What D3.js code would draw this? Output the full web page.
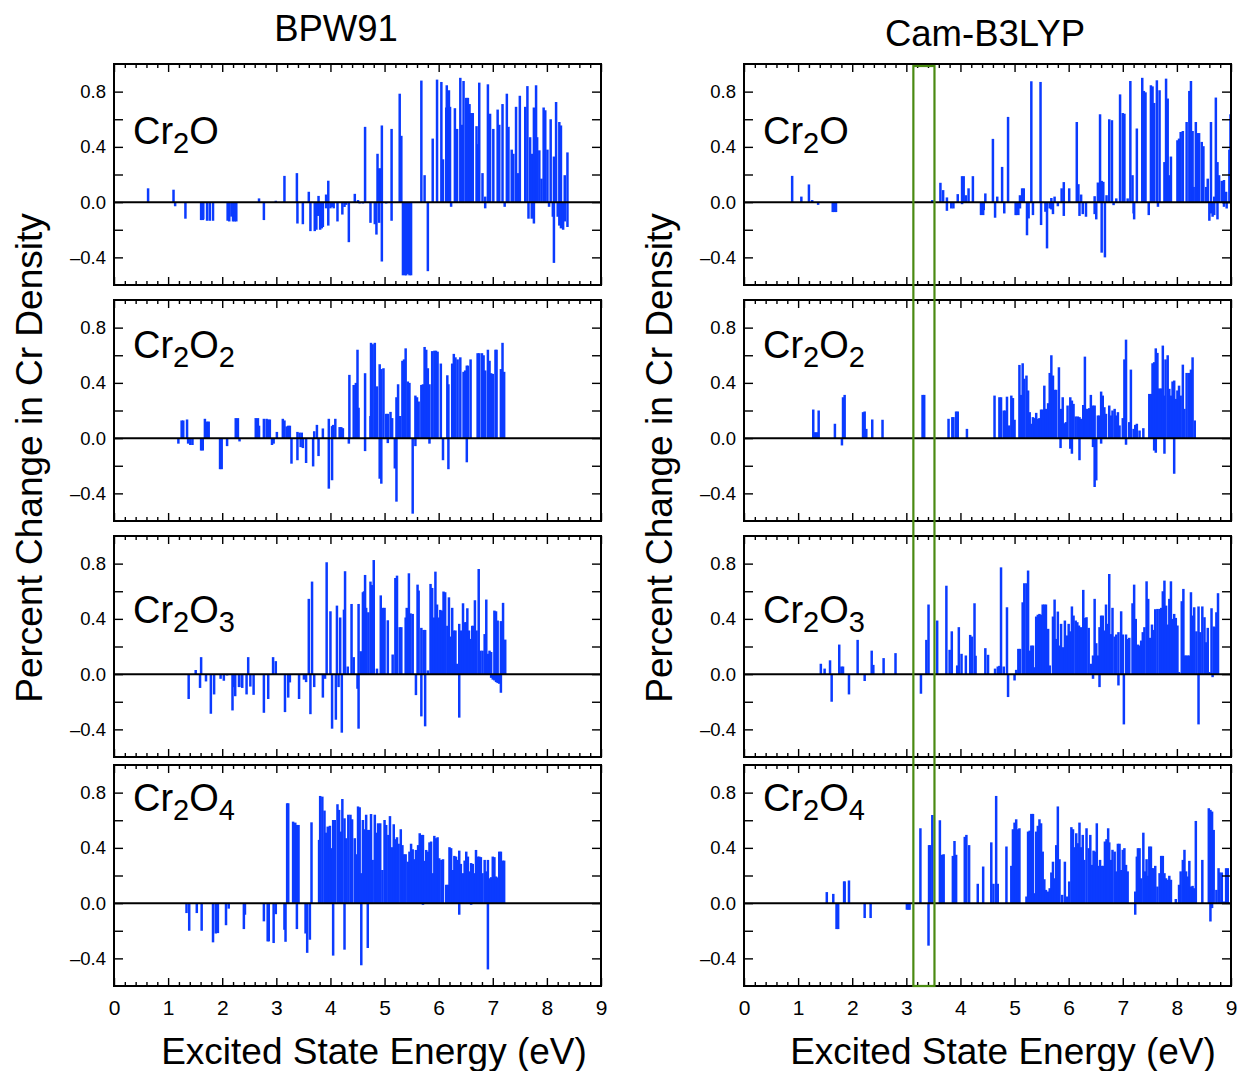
<!DOCTYPE html>
<html><head><meta charset="utf-8">
<script src="https://cdn.jsdelivr.net/npm/d3@7"></script>
<style>
body{margin:0;background:#fff;}
svg{display:block;font-family:"Liberation Sans",Arial,Helvetica,sans-serif;}
</style></head><body>
<svg id="chart" width="1241" height="1071"></svg>
<script>
// ---------------- DATA ----------------
const methods = ["BPW91", "Cam-B3LYP"];
const molecules = [["Cr","2","O",""],["Cr","2","O","2"],["Cr","2","O","3"],["Cr","2","O","4"]];
const xTicks = [0,1,2,3,4,5,6,7,8,9];
const yTickLabels = [-0.4, 0.0, 0.4, 0.8];
const highlightRange = [3.13, 3.52];
const xLabel = "Excited State Energy (eV)";
const yLabel = "Percent Change in Cr Density";

// [energy (eV), percent change]
const bpwCr2O = [[0.63,0.10],[1.10,0.09],[1.13,-0.03],[1.32,-0.12],[1.61,-0.13],[1.64,-0.13],[1.65,-0.125],[1.72,-0.135],[1.77,-0.135],[1.83,-0.135],[2.10,-0.135],[2.13,-0.14],[2.17,-0.105],[2.20,-0.14],[2.23,-0.14],[2.26,-0.14],[2.68,0.027],[2.77,-0.13],[2.99,0.01],[3.15,0.19],[3.38,0.21],[3.39,-0.155],[3.49,-0.16],[3.60,0.075],[3.63,-0.21],[3.71,-0.21],[3.74,-0.2],[3.78,0.045],[3.77,-0.1],[3.81,-0.2],[3.84,-0.19],[3.86,-0.18],[3.92,0.055],[3.92,-0.045],[3.96,0.155],[3.96,-0.17],[4.00,-0.045],[4.03,-0.035],[4.06,-0.045],[4.13,-0.14],[4.22,-0.09],[4.26,-0.035],[4.29,-0.02],[4.34,-0.29],[4.45,0.06],[4.51,0.015],[4.54,-0.01],[4.60,-0.01],[4.64,0.545],[4.74,-0.15],[4.82,-0.16],[4.85,-0.235],[4.87,0.35],[4.90,-0.15],[4.90,0.245],[4.93,0.245],[4.95,0.555],[4.95,-0.43],[5.03,-0.01],[5.13,0.53],[5.13,-0.135],[5.28,0.785],[5.31,0.48],[5.34,-0.53],[5.38,-0.53],[5.40,-0.53],[5.43,-0.52],[5.46,-0.53],[5.49,-0.53],[5.68,0.88],[5.74,0.195],[5.80,-0.5],[5.89,0.46],[5.97,0.887],[6.05,0.87],[6.08,0.31],[6.14,0.685],[6.15,0.846],[6.19,0.81],[6.21,0.69],[6.23,-0.034],[6.30,0.68],[6.34,0.53],[6.40,0.9],[6.43,0.56],[6.46,0.877],[6.51,0.755],[6.54,0.755],[6.57,0.71],[6.60,0.645],[6.63,0.645],[6.70,0.55],[6.72,0.42],[6.75,0.865],[6.81,0.21],[6.86,0.04],[6.86,-0.045],[6.91,0.853],[6.95,0.64],[7.01,0.53],[7.09,0.67],[7.12,0.56],[7.18,0.71],[7.22,-0.034],[7.26,0.785],[7.29,0.545],[7.35,0.38],[7.38,0.35],[7.43,0.69],[7.47,0.21],[7.50,0.77],[7.60,0.69],[7.64,0.84],[7.66,-0.12],[7.69,0.47],[7.72,0.35],[7.72,-0.12],[7.76,0.685],[7.76,-0.155],[7.80,0.846],[7.82,0.47],[7.86,0.375],[7.90,0.17],[7.94,0.685],[7.97,0.665],[8.01,0.38],[8.04,-0.034],[8.07,0.6],[8.11,-0.106],[8.13,0.33],[8.13,-0.44],[8.17,0.725],[8.20,-0.106],[8.23,0.58],[8.23,-0.17],[8.26,0.555],[8.26,-0.19],[8.30,-0.2],[8.33,0.195],[8.33,-0.14],[8.38,0.36],[8.38,-0.18]];

const bpwCr2O2 = [[1.19,-0.04],[1.25,0.128],[1.28,0.128],[1.35,0.135],[1.37,-0.04],[1.41,-0.05],[1.45,-0.05],[1.61,-0.09],[1.64,-0.09],[1.68,0.14],[1.72,0.12],[1.75,0.12],[1.96,-0.225],[1.99,-0.225],[2.09,-0.058],[2.25,0.145],[2.29,0.145],[2.32,-0.024],[2.62,0.145],[2.66,0.145],[2.68,0.09],[2.77,0.14],[2.82,0.14],[2.85,0.135],[2.88,0.135],[2.92,-0.05],[2.95,-0.04],[3.01,0.045],[3.12,0.14],[3.15,0.128],[3.19,0.085],[3.22,0.09],[3.25,0.09],[3.28,-0.185],[3.39,-0.16],[3.39,0.045],[3.43,0.04],[3.45,-0.065],[3.47,0.04],[3.49,-0.072],[3.55,-0.18],[3.68,-0.205],[3.70,0.05],[3.75,0.096],[3.78,-0.13],[3.86,0.07],[3.97,-0.366],[3.97,0.14],[4.03,-0.305],[4.03,0.087],[4.05,0.096],[4.09,0.14],[4.17,0.08],[4.20,0.08],[4.23,0.072],[4.34,-0.04],[4.35,0.458],[4.43,0.385],[4.47,0.4],[4.50,0.64],[4.52,0.22],[4.64,0.47],[4.64,-0.094],[4.74,0.16],[4.75,0.69],[4.78,0.68],[4.82,0.69],[4.83,0.25],[4.86,0.375],[4.91,-0.294],[4.91,0.535],[4.94,0.5],[4.94,-0.33],[4.98,0.506],[5.03,0.176],[5.06,-0.036],[5.06,0.176],[5.11,0.19],[5.14,0.145],[5.19,-0.22],[5.22,0.296],[5.22,-0.46],[5.25,0.39],[5.29,0.16],[5.33,0.56],[5.36,0.57],[5.39,0.65],[5.43,0.41],[5.46,0.4],[5.52,-0.547],[5.57,0.308],[5.57,-0.058],[5.60,0.296],[5.63,0.265],[5.68,0.385],[5.71,0.39],[5.74,0.66],[5.77,0.64],[5.80,0.506],[5.83,0.39],[5.83,-0.04],[5.88,0.63],[5.92,0.633],[5.95,0.633],[5.98,0.626],[6.04,0.54],[6.08,-0.16],[6.16,0.455],[6.18,-0.225],[6.18,0.39],[6.25,0.54],[6.28,0.61],[6.31,0.585],[6.35,0.57],[6.40,0.585],[6.46,0.48],[6.49,0.49],[6.52,-0.175],[6.52,0.525],[6.54,0.525],[6.59,0.57],[6.72,0.615],[6.75,0.615],[6.80,0.615],[6.83,0.6],[6.86,0.49],[6.91,0.64],[6.94,0.56],[6.97,0.47],[7.00,0.465],[7.05,0.64],[7.07,0.64],[7.15,0.5],[7.18,0.69],[7.21,0.48]];

const bpwCr2O3 = [[1.38,-0.18],[1.51,0.03],[1.59,-0.1],[1.61,0.123],[1.70,-0.053],[1.79,-0.287],[1.85,-0.147],[1.97,-0.034],[2.03,-0.048],[2.09,-0.01],[2.19,-0.263],[2.21,-0.094],[2.24,-0.16],[2.31,-0.094],[2.36,-0.094],[2.37,-0.1],[2.45,-0.147],[2.48,0.123],[2.52,-0.09],[2.58,-0.15],[2.77,-0.28],[2.85,-0.18],[2.94,0.123],[2.99,0.094],[3.16,-0.275],[3.22,-0.17],[3.25,-0.06],[3.42,-0.18],[3.51,-0.04],[3.55,-0.058],[3.60,0.545],[3.63,-0.29],[3.66,0.67],[3.70,-0.094],[3.86,-0.17],[3.90,-0.034],[3.93,0.81],[4.00,0.455],[4.03,-0.395],[4.10,-0.33],[4.12,0.496],[4.15,-0.094],[4.18,0.41],[4.21,-0.424],[4.25,0.467],[4.27,0.745],[4.32,0.055],[4.39,0.508],[4.43,0.123],[4.50,-0.106],[4.52,-0.395],[4.52,0.508],[4.56,0.166],[4.60,0.593],[4.62,0.6],[4.64,0.718],[4.66,0.48],[4.70,0.448],[4.74,0.67],[4.77,0.645],[4.80,0.826],[4.86,0.04],[4.93,0.57],[4.97,0.48],[5.00,0.48],[5.06,0.39],[5.15,0.142],[5.20,0.696],[5.23,0.713],[5.28,0.34],[5.31,0.34],[5.39,0.41],[5.41,0.48],[5.45,0.73],[5.48,0.44],[5.52,0.436],[5.58,-0.152],[5.61,0.648],[5.63,0.605],[5.68,0.335],[5.68,-0.306],[5.72,0.32],[5.75,-0.378],[5.75,0.32],[5.80,0.027],[5.85,0.653],[5.88,0.624],[5.91,0.41],[5.94,0.742],[5.97,0.504],[6.00,0.41],[6.03,0.465],[6.06,0.46],[6.09,0.598],[6.12,0.593],[6.16,0.35],[6.19,0.556],[6.22,0.272],[6.25,0.48],[6.28,0.316],[6.31,0.316],[6.34,0.075],[6.38,-0.315],[6.38,0.364],[6.41,0.316],[6.45,0.513],[6.48,0.376],[6.51,0.376],[6.53,0.477],[6.56,0.316],[6.59,0.255],[6.62,0.35],[6.64,0.35],[6.67,0.535],[6.70,0.316],[6.74,0.761],[6.77,0.17],[6.81,0.17],[6.85,0.29],[6.88,0.54],[6.91,0.147],[6.94,0.17],[6.97,0.16],[6.97,-0.027],[7.00,-0.04],[7.03,0.46],[7.03,-0.046],[7.06,0.455],[7.06,-0.058],[7.09,0.388],[7.09,-0.065],[7.12,-0.07],[7.15,0.384],[7.15,-0.135],[7.19,0.516],[7.23,0.25]];

const bpwCr2O4 = [[1.34,-0.072],[1.39,-0.2],[1.53,-0.072],[1.62,-0.2],[1.83,-0.284],[1.88,-0.22],[1.92,-0.217],[2.07,-0.16],[2.12,-0.04],[2.40,-0.188],[2.42,-0.084],[2.77,-0.132],[2.84,-0.277],[2.86,-0.277],[2.95,-0.289],[2.99,-0.08],[3.15,-0.193],[3.17,-0.28],[3.20,0.723],[3.22,0.723],[3.31,0.59],[3.35,0.583],[3.38,-0.188],[3.38,0.566],[3.41,0.566],[3.54,-0.22],[3.57,-0.36],[3.62,-0.265],[3.65,0.585],[3.79,0.458],[3.81,0.776],[3.85,0.771],[3.89,0.67],[3.92,0.51],[3.95,0.554],[3.99,0.56],[4.02,0.398],[4.05,0.602],[4.05,-0.38],[4.08,0.602],[4.13,0.716],[4.16,0.675],[4.19,0.518],[4.22,0.754],[4.26,0.614],[4.26,-0.337],[4.29,0.47],[4.33,0.64],[4.37,0.64],[4.40,0.607],[4.45,0.47],[4.48,0.354],[4.51,0.7],[4.54,0.694],[4.57,0.217],[4.57,-0.45],[4.60,0.602],[4.63,0.535],[4.66,0.64],[4.69,-0.325],[4.69,0.53],[4.72,0.53],[4.75,0.645],[4.78,0.313],[4.82,0.64],[4.85,0.51],[4.88,0.578],[4.92,0.578],[4.96,0.24],[5.00,0.602],[5.03,0.566],[5.07,0.494],[5.10,0.63],[5.14,0.405],[5.17,0.571],[5.20,0.463],[5.23,0.477],[5.26,0.43],[5.30,0.535],[5.33,0.42],[5.36,0.354],[5.39,0.354],[5.43,0.3],[5.46,0.373],[5.49,0.43],[5.52,0.39],[5.55,0.318],[5.58,0.385],[5.62,0.42],[5.65,0.506],[5.68,0.494],[5.71,0.494],[5.71,-0.012],[5.74,0.306],[5.77,0.385],[5.80,0.373],[5.83,0.44],[5.86,0.446],[5.89,0.217],[5.92,0.487],[5.95,0.47],[5.98,0.477],[6.01,0.325],[6.05,0.313],[6.08,0.318],[6.14,0.133],[6.17,0.133],[6.20,0.405],[6.23,0.398],[6.26,0.24],[6.29,0.342],[6.32,0.337],[6.35,0.313],[6.38,0.38],[6.38,-0.084],[6.41,0.284],[6.45,0.217],[6.48,0.308],[6.51,0.373],[6.54,0.337],[6.57,0.23],[6.60,0.29],[6.60,-0.012],[6.63,0.284],[6.66,0.217],[6.69,0.385],[6.72,0.337],[6.75,0.337],[6.78,0.333],[6.81,0.217],[6.85,0.313],[6.88,0.23],[6.91,0.313],[6.91,-0.48],[6.94,0.18],[6.97,0.188],[7.00,0.337],[7.03,0.333],[7.06,0.193],[7.09,0.186],[7.12,0.373],[7.15,0.373],[7.18,0.308],[7.21,0.308]];

const camCr2O = [[0.89,0.19],[1.06,0.04],[1.20,0.128],[1.26,0.015],[1.37,-0.02],[1.64,-0.072],[1.67,-0.072],[1.70,-0.072],[3.48,0.015],[3.63,0.14],[3.68,0.087],[3.75,0.034],[3.75,-0.063],[3.83,-0.046],[3.87,-0.046],[3.95,0.058],[4.03,0.188],[4.03,-0.015],[4.06,0.188],[4.10,0.05],[4.15,0.1],[4.23,0.188],[4.38,-0.094],[4.42,-0.094],[4.43,-0.058],[4.46,0.063],[4.60,0.458],[4.64,-0.113],[4.68,0.04],[4.77,0.255],[4.81,-0.082],[4.88,0.617],[5.02,-0.094],[5.04,-0.094],[5.07,-0.094],[5.10,0.05],[5.10,-0.046],[5.14,0.1],[5.17,0.1],[5.23,-0.24],[5.26,-0.118],[5.31,0.875],[5.34,-0.094],[5.48,0.87],[5.49,-0.166],[5.57,-0.07],[5.60,-0.335],[5.65,-0.046],[5.68,0.03],[5.68,-0.053],[5.71,-0.087],[5.74,0.04],[5.80,-0.03],[5.87,0.1],[5.91,0.145],[5.91,-0.1],[6.01,0.1],[6.15,0.58],[6.18,0.13],[6.20,-0.1],[6.23,0.055],[6.26,-0.087],[6.32,-0.106],[6.48,0.043],[6.48,-0.087],[6.51,-0.125],[6.54,0.142],[6.58,0.636],[6.61,-0.366],[6.61,0.154],[6.64,0.147],[6.67,-0.4],[6.70,0.05],[6.75,0.6],[6.80,0.593],[6.83,-0.022],[6.88,0.027],[6.95,0.78],[7.00,0.645],[7.03,0.64],[7.09,0.027],[7.14,0.877],[7.18,0.195],[7.20,-0.082],[7.21,-0.125],[7.26,0.533],[7.36,0.9],[7.39,0.805],[7.42,0.795],[7.48,-0.094],[7.52,0.846],[7.55,0.838],[7.58,0.718],[7.63,0.882],[7.65,-0.034],[7.68,0.81],[7.77,0.29],[7.80,0.894],[7.83,0.75],[7.86,0.195],[7.89,0.33],[8.01,0.448],[8.04,0.46],[8.07,0.508],[8.11,0.515],[8.18,0.58],[8.23,0.805],[8.26,0.877],[8.29,0.515],[8.31,0.11],[8.35,0.58],[8.38,0.5],[8.41,0.5],[8.46,0.436],[8.49,0.405],[8.54,0.11],[8.57,0.17],[8.60,-0.135],[8.63,0.58],[8.63,-0.082],[8.66,-0.106],[8.69,0.04],[8.69,-0.094],[8.72,0.757],[8.75,0.29],[8.75,-0.125],[8.78,0.195],[8.83,0.154],[8.87,0.16],[8.87,-0.034],[8.91,0.075],[8.92,-0.046],[8.97,0.38],[8.99,0.636]];

const camCr2O2 = [[1.28,0.207],[1.31,0.043],[1.35,0.043],[1.38,0.2],[1.68,0.104],[1.81,-0.053],[1.83,0.296],[1.86,0.313],[2.20,0.188],[2.23,0.193],[2.26,0.067],[2.37,0.135],[2.56,0.133],[3.30,0.313],[3.33,0.313],[3.78,0.14],[3.85,0.152],[3.87,0.152],[3.92,0.193],[3.95,0.193],[4.12,0.067],[4.63,0.308],[4.72,0.296],[4.75,0.296],[4.80,0.2],[4.83,0.2],[4.86,0.3],[4.90,0.092],[4.94,0.308],[4.97,0.29],[5.00,0.133],[5.09,0.53],[5.12,0.313],[5.15,0.542],[5.18,0.43],[5.22,0.453],[5.25,0.345],[5.28,0.188],[5.31,0.104],[5.34,0.152],[5.37,0.145],[5.40,0.183],[5.43,0.14],[5.46,0.145],[5.49,0.207],[5.52,0.207],[5.55,0.38],[5.58,0.212],[5.62,0.253],[5.65,0.472],[5.68,0.6],[5.71,0.453],[5.74,0.35],[5.77,0.35],[5.82,0.513],[5.85,-0.072],[5.86,0.212],[5.89,0.296],[5.92,0.108],[5.95,0.116],[5.98,0.236],[6.03,0.296],[6.03,-0.077],[6.06,0.272],[6.06,-0.113],[6.09,0.248],[6.13,0.157],[6.17,0.157],[6.20,-0.16],[6.20,0.152],[6.23,0.14],[6.27,0.24],[6.30,0.59],[6.32,0.212],[6.35,0.212],[6.38,0.217],[6.41,0.313],[6.45,0.236],[6.45,-0.065],[6.48,-0.354],[6.48,0.236],[6.51,-0.306],[6.54,0.164],[6.57,0.164],[6.60,0.337],[6.60,-0.04],[6.63,0.308],[6.66,0.224],[6.69,0.176],[6.75,0.236],[6.78,0.164],[6.81,0.2],[6.85,0.212],[6.88,0.164],[6.91,0.188],[6.94,0.092],[7.00,0.145],[7.03,0.57],[7.06,0.713],[7.06,-0.048],[7.12,0.116],[7.15,0.496],[7.20,0.067],[7.23,0.096],[7.26,0.104],[7.31,0.055],[7.38,0.072],[7.49,0.32],[7.52,0.32],[7.55,0.542],[7.58,0.55],[7.58,-0.09],[7.61,0.65],[7.61,-0.106],[7.64,0.617],[7.67,0.36],[7.71,0.36],[7.74,0.67],[7.77,0.308],[7.77,-0.113],[7.79,0.57],[7.83,0.6],[7.86,0.357],[7.89,0.308],[7.92,0.41],[7.95,0.417],[7.95,-0.258],[7.98,0.284],[8.01,0.345],[8.04,0.38],[8.07,0.308],[8.11,0.532],[8.14,0.212],[8.18,0.472],[8.22,0.472],[8.26,0.496],[8.29,0.585],[8.33,0.128]];

const camCr2O3 = [[1.42,0.075],[1.49,0.04],[1.59,0.1],[1.62,-0.2],[1.76,0.214],[1.80,0.055],[1.83,0.055],[1.94,-0.147],[2.10,0.248],[2.23,-0.05],[2.36,0.17],[2.39,0.067],[2.58,0.116],[2.80,0.152],[3.27,-0.142],[3.37,0.248],[3.41,0.504],[3.57,0.388],[3.74,0.64],[3.80,0.176],[3.84,0.31],[3.94,0.063],[3.97,0.34],[4.02,0.147],[4.10,0.135],[4.18,0.284],[4.21,0.272],[4.26,0.513],[4.28,0.133],[4.46,0.188],[4.51,0.14],[4.64,0.04],[4.69,0.055],[4.72,0.06],[4.75,0.773],[4.80,0.055],[4.86,0.484],[4.88,-0.166],[5.00,-0.046],[5.03,0.031],[5.07,0.183],[5.10,0.183],[5.15,0.52],[5.18,0.658],[5.22,0.658],[5.25,0.75],[5.28,0.17],[5.31,0.207],[5.34,0.207],[5.37,0.05],[5.40,0.417],[5.43,0.43],[5.46,0.436],[5.49,0.43],[5.52,0.504],[5.55,0.504],[5.58,0.504],[5.62,0.328],[5.65,0.063],[5.71,0.417],[5.74,0.54],[5.77,0.255],[5.80,0.453],[5.83,0.207],[5.86,0.364],[5.90,0.195],[5.93,0.388],[5.97,0.28],[6.00,0.364],[6.03,0.31],[6.06,0.49],[6.09,0.424],[6.13,0.388],[6.16,0.376],[6.19,0.352],[6.23,0.34],[6.27,0.61],[6.30,0.407],[6.33,0.412],[6.37,0.335],[6.41,0.075],[6.45,0.135],[6.45,-0.034],[6.48,0.545],[6.51,0.224],[6.54,0.135],[6.57,-0.094],[6.57,0.34],[6.60,0.424],[6.63,0.424],[6.66,0.316],[6.69,0.504],[6.72,0.364],[6.75,0.725],[6.78,0.29],[6.81,0.48],[6.85,0.272],[6.88,0.287],[6.92,-0.082],[6.92,0.304],[6.97,0.455],[7.00,0.287],[7.02,-0.364],[7.06,0.287],[7.09,0.255],[7.12,0.263],[7.18,0.513],[7.21,0.648],[7.24,0.4],[7.28,0.214],[7.31,0.207],[7.34,0.243],[7.37,0.304],[7.40,0.34],[7.44,0.672],[7.47,0.545],[7.50,0.263],[7.54,0.359],[7.57,0.32],[7.60,0.47],[7.64,0.472],[7.68,0.472],[7.71,0.48],[7.74,0.6],[7.77,0.677],[7.80,0.496],[7.83,0.359],[7.86,0.545],[7.89,0.672],[7.92,0.4],[7.95,0.436],[7.98,0.407],[8.01,0.352],[8.04,0.015],[8.09,0.528],[8.12,0.617],[8.14,0.135],[8.17,0.135],[8.20,0.135],[8.23,0.135],[8.26,0.593],[8.29,0.424],[8.32,0.484],[8.36,0.31],[8.40,-0.364],[8.40,0.49],[8.43,0.304],[8.47,0.49],[8.51,0.412],[8.54,0.231],[8.57,0.335],[8.60,0.015],[8.64,0.477],[8.66,-0.022],[8.68,0.345],[8.71,0.34],[8.73,0.448],[8.76,0.586]];

const camCr2O4 = [[1.53,0.08],[1.65,0.067],[1.71,-0.188],[1.74,-0.188],[1.85,0.157],[1.86,0.157],[1.94,0.164],[2.23,-0.108],[2.34,-0.108],[3.01,-0.048],[3.04,-0.048],[3.06,-0.048],[3.26,0.542],[3.41,-0.308],[3.42,0.42],[3.44,0.42],[3.48,0.638],[3.62,0.6],[3.66,0.35],[3.69,0.354],[3.86,0.342],[3.89,0.45],[3.92,0.35],[4.08,0.48],[4.11,0.494],[4.16,0.42],[4.32,0.14],[4.42,0.265],[4.57,0.44],[4.61,0.14],[4.66,0.776],[4.69,0.14],[4.85,0.41],[4.94,0.27],[4.97,0.535],[5.00,0.583],[5.03,0.607],[5.06,0.535],[5.09,0.542],[5.22,0.048],[5.25,0.518],[5.28,0.525],[5.31,0.646],[5.34,0.646],[5.37,0.072],[5.40,0.518],[5.43,0.56],[5.46,0.607],[5.49,0.578],[5.52,0.373],[5.55,0.173],[5.58,0.096],[5.62,0.084],[5.65,0.108],[5.68,0.222],[5.71,0.3],[5.74,0.18],[5.77,0.42],[5.80,0.7],[5.83,0.318],[5.88,0.06],[5.93,0.3],[5.97,0.048],[6.01,0.157],[6.05,0.55],[6.08,0.535],[6.11,0.405],[6.14,0.506],[6.17,0.434],[6.20,0.583],[6.23,0.405],[6.26,0.494],[6.29,0.313],[6.33,0.542],[6.37,0.398],[6.40,0.494],[6.43,0.277],[6.46,0.38],[6.49,0.373],[6.52,0.578],[6.55,0.27],[6.58,0.313],[6.61,0.27],[6.64,0.27],[6.67,0.446],[6.70,0.463],[6.73,0.542],[6.75,0.44],[6.78,0.313],[6.81,0.386],[6.85,0.373],[6.88,0.23],[6.91,0.43],[6.94,0.43],[6.97,0.24],[7.00,0.386],[7.03,0.398],[7.06,0.277],[7.09,0.23],[7.23,0.084],[7.23,-0.084],[7.26,0.337],[7.28,0.398],[7.31,0.398],[7.34,0.18],[7.38,0.51],[7.41,0.23],[7.44,0.318],[7.47,0.198],[7.49,0.41],[7.52,0.41],[7.54,0.253],[7.56,0.253],[7.60,0.27],[7.64,0.12],[7.68,0.217],[7.71,0.342],[7.74,0.342],[7.77,0.217],[7.80,0.18],[7.83,0.169],[7.86,0.198],[7.89,0.169],[7.98,0.03],[8.04,0.133],[8.07,0.23],[8.11,0.313],[8.14,0.386],[8.17,0.23],[8.20,0.193],[8.23,0.306],[8.26,0.12],[8.29,0.125],[8.32,0.108],[8.35,0.595],[8.47,0.313],[8.59,0.687],[8.62,-0.133],[8.62,0.675],[8.65,0.663],[8.65,-0.036],[8.68,0.53],[8.73,0.096],[8.77,0.253],[8.79,0.222],[8.83,0.222],[8.87,0.012],[8.91,0.253],[8.94,0.253]];

const panelData = [
  [bpwCr2O, bpwCr2O2, bpwCr2O3, bpwCr2O4],
  [camCr2O, camCr2O2, camCr2O3, camCr2O4]
];

// ---------------- LAYOUT ----------------
const colLeft = [114, 744];
const panelW = 487;
const rowTop = [64, 300, 536, 765];
const panelH = 221;
const labelBaseline = [80, 58, 87, 46];
const stickColor = "#0b3bff";

const svg = d3.select("#chart");
const font = '"Liberation Sans", Arial, Helvetica, sans-serif';

methods.forEach((m, ci) => {
  const x = d3.scaleLinear().domain([0, 9]).range([colLeft[ci], colLeft[ci] + panelW]);
  molecules.forEach((mol, ri) => {
    const top = rowTop[ri];
    const y = d3.scaleLinear().domain([-0.6, 1.0]).range([top + panelH, top]);
    const g = svg.append("g");

    // sticks
    g.append("g").selectAll("line").data(panelData[ci][ri]).join("line")
      .attr("x1", d => x(d[0])).attr("x2", d => x(d[0]))
      .attr("y1", y(0)).attr("y2", d => y(d[1]))
      .attr("stroke", stickColor).attr("stroke-width", 2.5);

    // zero line
    g.append("line").attr("x1", x(0)).attr("x2", x(9)).attr("y1", y(0)).attr("y2", y(0))
      .attr("stroke", "#000").attr("stroke-width", 2);

    // axes
    const minorX = d3.range(0, 9.001, 0.2).filter(v => Math.abs(v - Math.round(v)) > 1e-6);
    const yAll = [-0.4, -0.2, 0, 0.2, 0.4, 0.6, 0.8];
    const styleAxis = sel => { sel.select(".domain").remove(); sel.selectAll("line").attr("stroke", "#000").attr("stroke-width", 1.4); };

    // bottom major
    const bAx = g.append("g").attr("transform", `translate(0,${top + panelH})`)
      .call(d3.axisBottom(x).tickValues(xTicks).tickSize(-8).tickPadding(14)
        .tickFormat(ri === 3 ? d3.format("d") : () => ""));
    styleAxis(bAx);
    bAx.selectAll("text").attr("font-size", 21).attr("font-family", font).attr("fill", "#000");
    const bMin = g.append("g").attr("transform", `translate(0,${top + panelH})`)
      .call(d3.axisBottom(x).tickValues(minorX).tickSize(-4).tickFormat(() => ""));
    styleAxis(bMin);
    // top
    const tAx = g.append("g").attr("transform", `translate(0,${top})`)
      .call(d3.axisTop(x).tickValues(xTicks).tickSize(-8).tickFormat(() => ""));
    styleAxis(tAx);
    const tMin = g.append("g").attr("transform", `translate(0,${top})`)
      .call(d3.axisTop(x).tickValues(minorX).tickSize(-4).tickFormat(() => ""));
    styleAxis(tMin);
    // left
    const lAx = g.append("g").attr("transform", `translate(${colLeft[ci]},0)`)
      .call(d3.axisLeft(y).tickValues(yAll).tickSize(-9).tickPadding(8)
        .tickFormat(v => yTickLabels.some(t => Math.abs(t - v) < 1e-6) ? (v < 0 ? "\u2013" + d3.format(".1f")(-v) : d3.format(".1f")(v)) : ""));
    styleAxis(lAx);
    lAx.selectAll("text").attr("font-size", 18.5).attr("font-family", font).attr("fill", "#000");
    // right
    const rAx = g.append("g").attr("transform", `translate(${colLeft[ci] + panelW},0)`)
      .call(d3.axisRight(y).tickValues(yAll).tickSize(-9).tickFormat(() => ""));
    styleAxis(rAx);

    // frame
    g.append("rect").attr("x", colLeft[ci]).attr("y", top).attr("width", panelW).attr("height", panelH)
      .attr("fill", "none").attr("stroke", "#000").attr("stroke-width", 2);

    // panel label
    const t = g.append("text").attr("x", colLeft[ci] + 19).attr("y", top + labelBaseline[ri])
      .attr("font-size", 38).attr("font-family", font).attr("fill", "#000");
    t.append("tspan").text(mol[0]);
    t.append("tspan").attr("font-size", 29).attr("dy", 9).text(mol[1]);
    t.append("tspan").attr("dy", -9).text(mol[2]);
    if (mol[3]) t.append("tspan").attr("font-size", 29).attr("dy", 9).text(mol[3]);
  });

  // column title
  svg.append("text").attr("x", ci === 0 ? 336 : 985).attr("y", ci === 0 ? 41 : 46)
    .attr("text-anchor", "middle").attr("font-size", 36.5).attr("font-family", font).text(m);
  // x label
  svg.append("text").attr("x", ci === 0 ? 374 : 1003).attr("y", 1064)
    .attr("text-anchor", "middle").attr("font-size", 37).attr("font-family", font).text(xLabel);
  // y label
  svg.append("text").attr("transform", `translate(${ci === 0 ? 42 : 672},458) rotate(-90)`)
    .attr("text-anchor", "middle").attr("font-size", 37).attr("font-family", font).text(yLabel);
});

// highlight box on Cam-B3LYP column
const xr = d3.scaleLinear().domain([0, 9]).range([colLeft[1], colLeft[1] + panelW]);
svg.append("rect").attr("x", xr(highlightRange[0])).attr("y", rowTop[0] + 2)
  .attr("width", xr(highlightRange[1]) - xr(highlightRange[0]))
  .attr("height", rowTop[3] + panelH - rowTop[0] - 2)
  .attr("fill", "none").attr("stroke", "#4a8a12").attr("stroke-width", 2.2);
</script>
</body></html>
